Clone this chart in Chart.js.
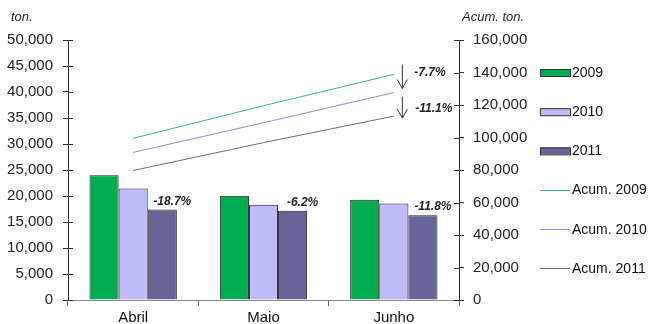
<!DOCTYPE html>
<html>
<head>
<meta charset="utf-8">
<script src="https://cdn.jsdelivr.net/npm/chart.js@4"></script>
<style>
  body { margin: 0; background: #fff; }
  #wrap { width: 650px; height: 324px; position: relative; }
</style>
</head>
<body>
<div id="wrap"><canvas id="myChart" width="650" height="324"></canvas></div>
<script>
// dados
var months = ["Abril", "Maio", "Junho"];
var ton2009 = [24000, 20050, 19300];
var ton2010 = [21450, 18300, 18550];
var ton2011 = [17400, 17150, 16300];
var acum2009 = [99500, 119550, 138850];
var acum2010 = [90800, 109100, 127650];
var acum2011 = [79700, 96850, 113150];
var monthChange = ["-18.7%", "-6.2%", "-11.8%"];
var acumChange = ["-7.7%", "-11.1%"];
var leftTicks = [0, 5000, 10000, 15000, 20000, 25000, 30000, 35000, 40000, 45000, 50000];
var rightTicks = [0, 20000, 40000, 60000, 80000, 100000, 120000, 140000, 160000];

var FONT = "'Liberation Sans', Arial, sans-serif";

function fmt(v) {
  return Number(v).toLocaleString("en-US");
}

// tracinhos para dentro dos eixos + textos extra
var extras = {
  id: "extras",
  afterDraw: function (chart) {
    var c = chart.ctx;
    var y = chart.scales.y;
    var y1 = chart.scales.y1;
    c.save();
    c.strokeStyle = "#333";
    c.lineWidth = 1;
    y.ticks.forEach(function (t) {
      var py = Math.round(y.getPixelForValue(t.value)) + 0.5;
      c.beginPath();
      c.moveTo(y.right, py);
      c.lineTo(y.right + 5, py);
      c.stroke();
    });
    y1.ticks.forEach(function (t) {
      var py = Math.round(y1.getPixelForValue(t.value)) + 0.5;
      c.beginPath();
      c.moveTo(y1.left - 5, py);
      c.lineTo(y1.left, py);
      c.stroke();
    });

    // titulos dos eixos
    c.fillStyle = "#222";
    c.font = "italic 13px " + FONT;
    c.textBaseline = "middle";
    c.textAlign = "left";
    c.fillText("ton.", 11, 17);
    c.fillText("Acum. ton.", 462, 17);

    // variacao mensal
    c.font = "bold italic 12px " + FONT;
    c.textAlign = "center";
    c.textBaseline = "alphabetic";
    var m11 = chart.getDatasetMeta(2).data;
    monthChange.forEach(function (txt, i) {
      var b = m11[i];
      c.fillText(txt, b.x + 10, b.y - 5);
    });

    // setas acumulado
    var p09 = chart.getDatasetMeta(3).data[2];
    var p10 = chart.getDatasetMeta(4).data[2];
    var p11 = chart.getDatasetMeta(5).data[2];
    var ax = p09.x + 8.5;
    function arrow(y0, y1a) {
      c.beginPath();
      c.moveTo(ax, y0);
      c.lineTo(ax, y1a);
      c.moveTo(ax - 5, y1a - 9);
      c.lineTo(ax, y1a);
      c.lineTo(ax + 5, y1a - 9);
      c.stroke();
    }
    c.strokeStyle = "#333";
    arrow(p09.y - 10, p10.y - 4);
    arrow(p10.y + 4, p11.y + 2);
    c.textAlign = "left";
    c.textBaseline = "middle";
    c.fillText(acumChange[0], ax + 12, p09.y - 2);
    c.fillText(acumChange[1], ax + 13, p11.y - 7);

    // legenda
    var lx = 540;
    var ly = 72;
    c.font = "14px " + FONT;
    chart.data.datasets.forEach(function (ds, i) {
      var yy = ly + i * 39.2;
      if (ds.type === "line") {
        c.strokeStyle = ds.borderColor;
        c.beginPath();
        c.moveTo(lx, Math.round(yy) + 0.5);
        c.lineTo(lx + 30, Math.round(yy) + 0.5);
        c.stroke();
      } else {
        c.fillStyle = ds.backgroundColor;
        c.fillRect(lx, yy - 3, 30, 7);
        c.strokeStyle = "#333";
        c.strokeRect(lx + 0.5, yy - 2.5, 30, 7);
      }
      c.fillStyle = "#111";
      c.fillText(ds.label, lx + 32, yy + 1);
    });
    c.restore();
  },
};

const ctx = document.getElementById("myChart");

new Chart(ctx, {
  data: {
    labels: months,
    datasets: [
      { type: "bar", label: "2009", data: ton2009, backgroundColor: "#00ac50", borderColor: "#222", borderWidth: 1, yAxisID: "y", order: 2 },
      { type: "bar", label: "2010", data: ton2010, backgroundColor: "#bcbcf8", borderColor: "#222", borderWidth: 1, yAxisID: "y", order: 2 },
      { type: "bar", label: "2011", data: ton2011, backgroundColor: "#656597", borderColor: "#222", borderWidth: 1, yAxisID: "y", order: 2 },
      { type: "line", label: "Acum. 2009", data: acum2009, borderColor: "#3cb47c", borderWidth: 1, pointRadius: 0, yAxisID: "y1", order: 1 },
      { type: "line", label: "Acum. 2010", data: acum2010, borderColor: "#8e8ed8", borderWidth: 1, pointRadius: 0, yAxisID: "y1", order: 1 },
      { type: "line", label: "Acum. 2011", data: acum2011, borderColor: "#6a6a90", borderWidth: 1, pointRadius: 0, yAxisID: "y1", order: 1 },
    ],
  },
  options: {
    responsive: false,
    animation: false,
    layout: { padding: { top: 40, right: 121, bottom: 0, left: 0 } },
    plugins: { legend: { display: false }, tooltip: { enabled: false } },
    datasets: { bar: { barPercentage: 1, categoryPercentage: 0.67 } },
    scales: {
      x: {
        offset: true,
        grid: { offset: true, drawOnChartArea: false, tickLength: 6, color: "#666" },
        border: { color: "#888" },
        ticks: { color: "#111", font: { family: FONT, size: 15 }, padding: 3 },
        afterFit: function (s) { s.height = 24; },
      },
      y: {
        position: "left",
        min: 0,
        max: 50000,
        afterBuildTicks: function (s) { s.ticks = leftTicks.map(function (v) { return { value: v }; }); },
        grid: { drawOnChartArea: false, tickLength: 5, color: "#333" },
        border: { color: "#333" },
        ticks: { color: "#222", font: { family: FONT, size: 15 }, padding: 10, callback: fmt },
        afterFit: function (s) { s.width = 68; },
      },
      y1: {
        position: "right",
        min: 0,
        max: 160000,
        afterBuildTicks: function (s) { s.ticks = rightTicks.map(function (v) { return { value: v }; }); },
        grid: { drawOnChartArea: false, tickLength: 5, color: "#333" },
        border: { color: "#333" },
        ticks: { color: "#222", font: { family: FONT, size: 15 }, padding: 9, callback: fmt },
        afterFit: function (s) { s.width = 70; },
      },
    },
  },
  plugins: [extras],
});
</script>
</body>
</html>
